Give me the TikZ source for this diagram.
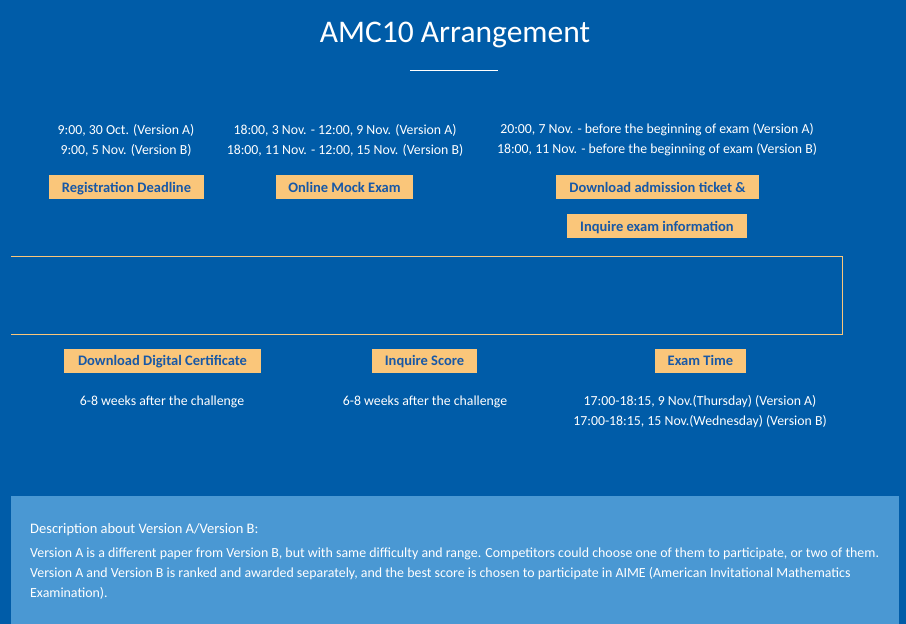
\documentclass[tikz,border=0pt]{standalone}
\usepackage{fontspec}
\setmainfont{Carlito}
\usepackage{xcolor}
\usepackage{tikz}
\definecolor{pageblue}{RGB}{0,92,168}
\definecolor{stagegold}{RGB}{250,198,122}
\definecolor{stagetext}{RGB}{24,88,166}
\definecolor{panelblue}{RGB}{74,152,211}

\begin{document}
\begin{tikzpicture}[x=1pt, y=-1pt,
    stage/.style={fill=stagegold, text=stagetext, inner sep=0pt, minimum height=24pt, text height=11pt, text depth=1pt, text centered, font=\bfseries\fontsize{14.5}{15}\selectfont},
    info/.style={text=white, align=center, font=\fontsize{13.8}{20}\selectfont}
]

\fill[pageblue] (0,0) rectangle (906,624);

\node[text=white, font=\fontsize{31.5}{34}\selectfont] (title) at (455,35) {AMC10 Arrangement};
\draw[white] (410,70) -- (498,70);

\node[info] (i1) at (126,140) {9:00, 30 Oct. (Version A)\\9:00, 5 Nov. (Version B)};
\node[info] (i2) at (345,140) {18:00, 3 Nov. - 12:00, 9 Nov. (Version A)\\18:00, 11 Nov. - 12:00, 15 Nov. (Version B)};
\node[info] (i3) at (657,140) {20:00, 7 Nov. - before the beginning of exam (Version A)\\18:00, 11 Nov. - before the beginning of exam (Version B)};

\node[stage, minimum width=155pt] (s1) at (126.5,187) {Registration Deadline};
\node[stage, minimum width=137pt] (s2) at (344.5,187) {Online Mock Exam};
\node[stage, minimum width=203pt] (s3) at (657.5,187) {Download admission ticket \&};
\node[stage, minimum width=180pt] (s4) at (657,226) {Inquire exam information};

\draw[stagegold, line width=1pt] (11,256) -- (842,256) -- (842,334) -- (11,334);

\node[stage, minimum width=197pt] (s5) at (162.5,360.5) {Download Digital Certificate};
\node[stage, minimum width=105pt] (s6) at (424.5,360.5) {Inquire Score};
\node[stage, minimum width=91pt] (s7) at (700.5,360.5) {Exam Time};

\node[info] (i5) at (162,401.5) {6-8 weeks after the challenge};
\node[info] (i6) at (425,401.5) {6-8 weeks after the challenge};
\node[info] (i7) at (700,411.5) {17:00-18:15, 9 Nov.(Thursday) (Version A)\\17:00-18:15, 15 Nov.(Wednesday) (Version B)};

\fill[panelblue] (11,496) rectangle (899,624);
\node[text=white, anchor=west, inner sep=0pt, font=\fontsize{14.5}{16}\selectfont] (dhead) at (30,529.5) {Description about Version A/Version B:};
\node[text=white, anchor=north west, inner sep=0pt, align=left, font=\fontsize{13.9}{20}\selectfont] (dbody) at (30,548) {Version A is a different paper from Version B, but with same difficulty and range. Competitors could choose one of them to participate, or two of them.\\Version A and Version B is ranked and awarded separately, and the best score is chosen to participate in AIME (American Invitational Mathematics\\Examination).};

\end{tikzpicture}
\end{document}
